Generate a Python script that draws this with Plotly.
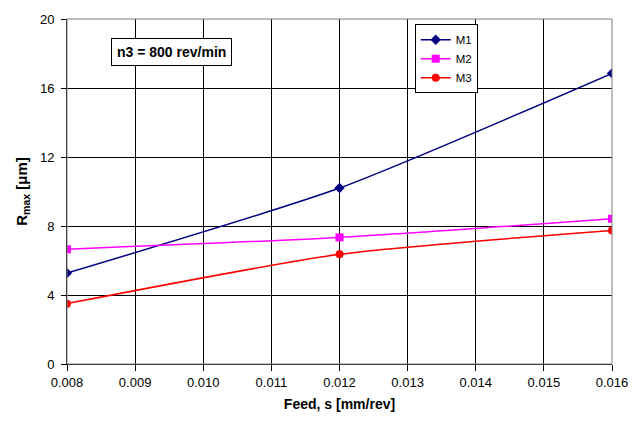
import plotly.graph_objects as go

feed = [0.008, 0.012, 0.016]
m1 = [5.27, 10.2, 16.85]
m2 = [6.65, 7.34, 8.42]
m3 = [3.5, 6.36, 7.74]
x_ticks = [0.008, 0.009, 0.010, 0.011, 0.012, 0.013, 0.014, 0.015, 0.016]
x_tick_labels = ["0.008", "0.009", "0.010", "0.011", "0.012", "0.013", "0.014", "0.015", "0.016"]
y_ticks = [0, 4, 8, 12, 16, 20]

fig = go.Figure()
series = [
    ("M1", m1, "#000080", "diamond", 8),
    ("M2", m2, "#FF00FF", "square", 8),
    ("M3", m3, "#FF0000", "circle", 8),
]
for name, vals, col, sym, sz in series:
    fig.add_trace(go.Scatter(
        x=feed, y=vals, name=name, mode="lines+markers",
        line=dict(color=col, width=1.5, shape="spline", smoothing=0.6),
        marker=dict(symbol=sym, size=sz, color=col),
    ))

fig.update_layout(
    width=644, height=423,
    margin=dict(l=67, r=32, t=15, b=59),
    paper_bgcolor="white", plot_bgcolor="white",
    font=dict(family="Liberation Sans, Arial, sans-serif", size=13, color="black"),
    showlegend=True,
    legend=dict(x=0.638, y=0.985, xanchor="left", yanchor="top",
                bordercolor="black", borderwidth=1, bgcolor="white",
                font=dict(size=11.5), tracegroupgap=0, itemwidth=30),
    xaxis=dict(range=[0.008, 0.016], tickvals=x_ticks, ticktext=x_tick_labels,
               showgrid=True, gridcolor="black", gridwidth=1,
               ticks="outside", ticklen=6, tickcolor="black",
               showline=True, linecolor="black", mirror=False, zeroline=False,
               title=dict(text="<b>Feed, s [mm/rev]</b>", font=dict(size=14), standoff=10)),
    yaxis=dict(range=[0, 20], tickvals=y_ticks,
               showgrid=True, gridcolor="black", gridwidth=1,
               ticks="outside", ticklen=5, tickcolor="black", ticklabelstandoff=4,
               showline=True, linecolor="black", zeroline=False,
               title=dict(text="<b>R<sub>max</sub> [μm]</b>", font=dict(size=15), standoff=8)),
    shapes=[dict(type="rect", xref="paper", yref="paper", x0=0, x1=1, y0=0, y1=1,
                 line=dict(color="#808080", width=1), fillcolor="rgba(0,0,0,0)")],
    annotations=[dict(text="<b>n3 = 800 rev/min</b>", xref="paper", yref="paper",
                      x=0.191, y=0.903, xanchor="center", yanchor="middle",
                      showarrow=False, bordercolor="black",
                      borderwidth=1, bgcolor="white", borderpad=5,
                      font=dict(size=14))],
)

fig.write_html("out.html", config={"displayModeBar": False},
               post_script="document.body.style.margin='0';")
